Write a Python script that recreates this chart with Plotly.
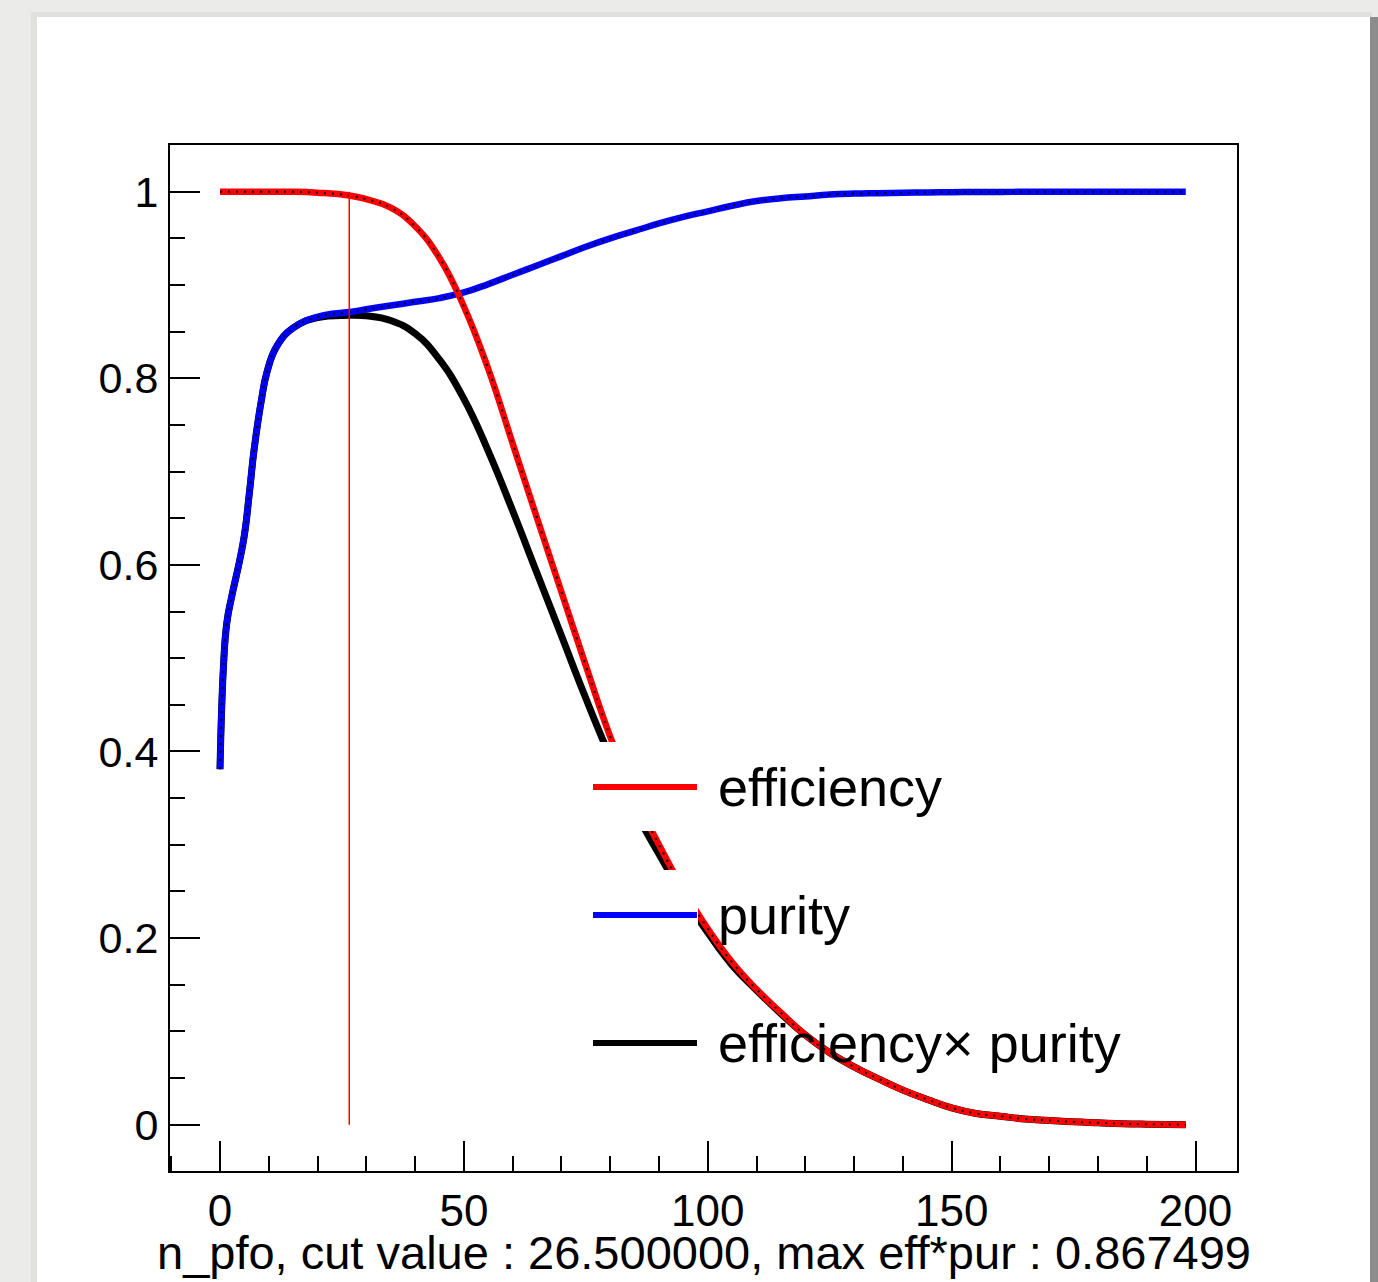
import plotly.graph_objects as go

# ---------------- data ----------------
n_pfo = [0, 0.7, 1.4, 2.4, 4, 5, 6, 7, 8.5, 9.6, 11.6, 15,
         20, 26.5, 30, 35, 40, 45, 50, 55, 60, 65,
         70, 75, 80, 85, 90, 95, 100, 105, 110, 115,
         120, 125, 130, 135, 140, 145, 150, 155, 160, 165,
         170, 175, 180, 185, 190, 198]

efficiency = [1.0, 1.0, 1.0, 1.0, 1.0, 1.0, 1.0, 1.0, 1.0, 1.0, 1.0, 1.0,
              0.999, 0.996, 0.992, 0.983, 0.963, 0.929, 0.877, 0.810, 0.730, 0.650,
              0.571, 0.492, 0.416, 0.352, 0.300, 0.252, 0.210, 0.174, 0.145, 0.120,
              0.096, 0.077, 0.062, 0.049, 0.037, 0.027, 0.018, 0.012, 0.009, 0.006,
              0.0045, 0.003, 0.002, 0.001, 0.0005, 0.0]

purity = [0.381, 0.49, 0.538, 0.566, 0.604, 0.632, 0.676, 0.724, 0.777, 0.806, 0.834, 0.854,
          0.866, 0.871, 0.874, 0.878, 0.882, 0.886, 0.892, 0.901, 0.911, 0.921,
          0.931, 0.941, 0.950, 0.958, 0.966, 0.973, 0.979, 0.985, 0.990, 0.993,
          0.995, 0.997, 0.998, 0.9985, 0.999, 0.9993, 0.9995, 0.9997, 0.9998, 0.9999,
          1.0, 1.0, 1.0, 1.0, 1.0, 1.0]

eff_x_pur = [0.381, 0.49, 0.538, 0.566, 0.604, 0.632, 0.676, 0.724, 0.777, 0.806, 0.834, 0.854,
             0.865, 0.8675, 0.867, 0.862, 0.848, 0.820, 0.778, 0.722, 0.658, 0.591,
             0.524, 0.457, 0.394, 0.337, 0.290, 0.245, 0.206, 0.171, 0.144, 0.119,
             0.096, 0.077, 0.062, 0.049, 0.037, 0.027, 0.018, 0.012, 0.009, 0.006,
             0.0045, 0.003, 0.002, 0.001, 0.0005, 0.0]

cut_value = 26.5
max_eff_pur = 0.867499
cut_line_y = [0, 1]

x_tickvals = [0, 50, 100, 150, 200]
y_tickvals = [0, 0.2, 0.4, 0.6, 0.8, 1]
y_ticktext = ["0", "0.2", "0.4", "0.6", "0.8", "1"]

legend_labels = ["efficiency", "purity", "efficiency\u00d7 purity"]
legend_colors = ["#ff0000", "#0000ff", "#000000"]

# ---------------- figure ----------------
W, H = 1378, 1282
L, R, T, B = 170, 141, 145, 111
PW, PH = W - L - R, H - T - B


def px(xp):
    return (xp - L) / PW


def py(yp):
    return (H - B - yp) / PH


FONT = "Liberation Sans, Arial, Helvetica, sans-serif"
DOTS = "2px,6px"
SM = 1.3

fig = go.Figure()

fig.add_trace(go.Scatter(x=n_pfo, y=eff_x_pur, mode="lines",
                         line=dict(color="#000000", width=7, shape="spline", smoothing=SM),
                         showlegend=False, hoverinfo="skip"))
fig.add_trace(go.Scatter(x=n_pfo, y=purity, mode="lines",
                         line=dict(color="#0000ff", width=6.5, shape="spline", smoothing=SM),
                         showlegend=False, hoverinfo="skip"))
fig.add_trace(go.Scatter(x=n_pfo, y=purity, mode="lines",
                         line=dict(color="#000000", width=2, dash=DOTS, shape="spline", smoothing=SM),
                         showlegend=False, hoverinfo="skip"))
fig.add_trace(go.Scatter(x=n_pfo, y=efficiency, mode="lines",
                         line=dict(color="#ff0000", width=6.5, shape="spline", smoothing=SM),
                         showlegend=False, hoverinfo="skip"))
fig.add_trace(go.Scatter(x=n_pfo, y=efficiency, mode="lines",
                         line=dict(color="#000000", width=2, dash=DOTS, shape="spline", smoothing=SM),
                         showlegend=False, hoverinfo="skip"))
fig.add_trace(go.Scatter(x=[cut_value, cut_value], y=cut_line_y, mode="lines",
                         line=dict(color="#ff0000", width=1.5),
                         showlegend=False, hoverinfo="skip"))

shapes = []
# page background card + shadows
shapes.append(dict(type="rect", xref="paper", yref="paper", layer="below",
                   x0=px(31), x1=px(1372), y0=py(1290), y1=py(12),
                   fillcolor="#e0e0de", line=dict(width=0)))
shapes.append(dict(type="rect", xref="paper", yref="paper", layer="below",
                   x0=px(1369), x1=px(1378), y0=py(1290), y1=py(17),
                   fillcolor="#8c8c8c", line=dict(width=0)))
shapes.append(dict(type="rect", xref="paper", yref="paper", layer="below",
                   x0=px(37), x1=px(1370), y0=py(1290), y1=py(17),
                   fillcolor="#ffffff", line=dict(width=0)))

# legend symbol boxes (white fill)
entry_y = [787, 915, 1043]
for yc in entry_y:
    shapes.append(dict(type="rect", xref="paper", yref="paper", layer="above",
                       x0=px(590), x1=px(698), y0=py(yc + 44), y1=py(yc - 45),
                       fillcolor="#ffffff", line=dict(width=0)))
for yc, col in zip(entry_y, legend_colors):
    shapes.append(dict(type="line", xref="paper", yref="paper", layer="above",
                       x0=px(593), x1=px(697), y0=py(yc), y1=py(yc),
                       line=dict(color=col, width=6)))

annotations = []
for yc, lab in zip(entry_y, legend_labels):
    annotations.append(dict(text=lab, xref="paper", yref="paper", x=px(716), y=py(yc),
                            xanchor="left", yanchor="middle", showarrow=False,
                            font=dict(family=FONT, size=54, color="#000000")))

title = "n_pfo, cut value : %f, max eff*pur : %f" % (cut_value, max_eff_pur)
annotations.append(dict(text=title, xref="paper", yref="paper", x=px(704), y=py(1252),
                        xanchor="center", yanchor="middle", showarrow=False,
                        font=dict(family=FONT, size=47, color="#000000")))

fig.update_layout(
    width=W, height=H,
    margin=dict(l=L, r=R, t=T, b=B, pad=0),
    paper_bgcolor="#ebebe9",
    plot_bgcolor="#ffffff",
    shapes=shapes,
    annotations=annotations,
    showlegend=False,
    font=dict(family=FONT, size=44, color="#000000"),
)

fig.update_xaxes(
    range=[-10.25, 208.5], showgrid=False, zeroline=False,
    showline=True, linecolor="#000000", linewidth=2, mirror=True,
    ticks="inside", ticklen=30, tickwidth=2, tickcolor="#000000",
    tickvals=x_tickvals, ticktext=[str(v) for v in x_tickvals],
    tickfont=dict(family=FONT, size=44, color="#000000"),
    ticklabelstandoff=0,
    minor=dict(ticks="inside", ticklen=15, tickwidth=2, tickcolor="#000000", dtick=10, tick0=0),
)
fig.update_yaxes(
    range=[-0.0497, 1.0501], showgrid=False, zeroline=False,
    showline=True, linecolor="#000000", linewidth=2, mirror=True,
    ticks="inside", ticklen=30, tickwidth=2, tickcolor="#000000",
    tickvals=y_tickvals, ticktext=y_ticktext,
    tickfont=dict(family=FONT, size=43, color="#000000"),
    ticklabelstandoff=1,
    minor=dict(ticks="inside", ticklen=15, tickwidth=2, tickcolor="#000000", dtick=0.05, tick0=0),
)

fig.write_html("out.html")
